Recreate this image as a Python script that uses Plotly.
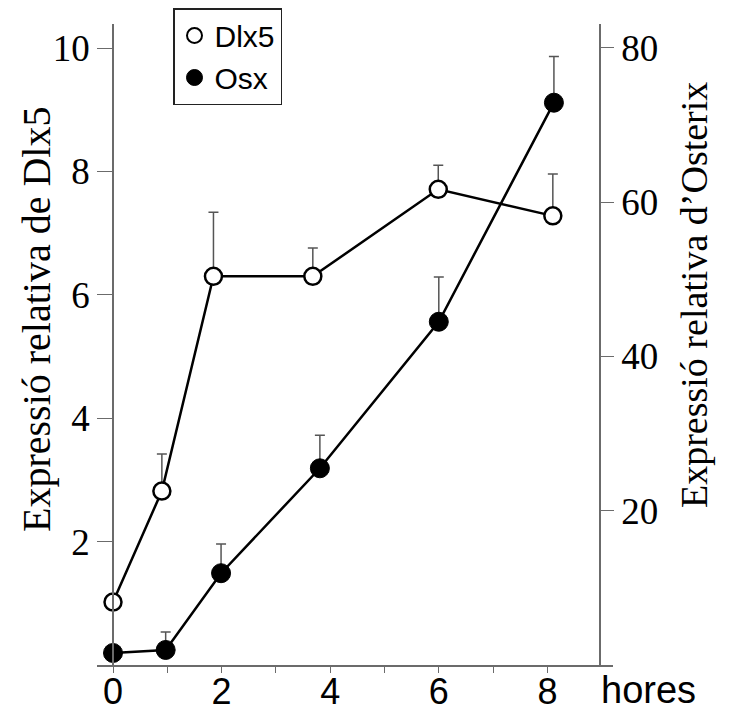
import plotly.graph_objects as go

# Data
hours_dlx5 = [0, 0.9, 1.85, 3.68, 5.99, 8.1]
dlx5 = [1.02, 2.82, 6.30, 6.30, 7.71, 7.28]
dlx5_err = [0, 0.60, 1.04, 0.46, 0.39, 0.68]

hours_osx = [0, 0.97, 1.99, 3.81, 6.0, 8.12]
osx = [1.56, 1.95, 11.9, 25.5, 44.5, 72.9]
osx_err = [0, 2.33, 3.8, 4.3, 5.8, 6.0]

x_tickvals = [0, 1, 2, 3, 4, 5, 6, 7, 8]
x_ticktext = ["0", "", "2", "", "4", "", "6", "", "8"]
left_ticks = [2, 4, 6, 8, 10]
right_ticks = [20, 40, 60, 80]

# page offset (body margin) compensation
OFF = 8
W, H = 730 - OFF, 711 - OFF
# plot area in page pixels
PL, PR, PT, PB = 97, 613, 24, 665
ML, MR, MT, MB = PL - OFF, W - (PR - OFF), PT - OFF, H - (PB - OFF)
pw = PR - PL
ph = PB - PT

def px2paper_x(px):
    return (px - PL) / pw

def px2paper_y(py):
    return (PB - py) / ph

AXIS_GRAY = "#6b6b6b"
SERIF = "Liberation Serif, Times New Roman, serif"
SANS = "Liberation Sans, Arial, sans-serif"

fig = go.Figure()

fig.add_trace(go.Scatter(
    x=hours_osx, y=osx, yaxis="y2", mode="lines+markers", showlegend=False,
    line=dict(color="black", width=2.5),
    marker=dict(symbol="circle", size=19, color="black", line=dict(color="black", width=1)),
    error_y=dict(type="data", symmetric=False, array=osx_err, arrayminus=[0]*len(osx_err),
                 color="#555555", thickness=1.5, width=5),
))
fig.add_trace(go.Scatter(
    x=hours_dlx5, y=dlx5, mode="lines+markers", showlegend=False,
    line=dict(color="black", width=2.5),
    marker=dict(symbol="circle", size=17, color="white", line=dict(color="black", width=2.5)),
    error_y=dict(type="data", symmetric=False, array=dlx5_err, arrayminus=[0]*len(dlx5_err),
                 color="#555555", thickness=1.5, width=5),
))

# legend-only traces
fig.add_trace(go.Scatter(x=[None], y=[None], mode="markers", name="Dlx5",
                         marker=dict(symbol="circle", size=15, color="white",
                                     line=dict(color="black", width=2))))
fig.add_trace(go.Scatter(x=[None], y=[None], mode="markers", name="Osx",
                         marker=dict(symbol="circle", size=17, color="black",
                                     line=dict(color="black", width=1))))

x0px = 113
xscale = 54.3
fig.update_layout(
    width=W, height=H,
    margin=dict(l=ML, r=MR, t=MT, b=MB, pad=0, autoexpand=False),
    plot_bgcolor="white", paper_bgcolor="white",
    showlegend=True,
    legend=dict(x=px2paper_x(173), y=px2paper_y(8), xanchor="left", yanchor="top",
                bordercolor="#222222", borderwidth=1.5, bgcolor="white",
                font=dict(family=SANS, size=30, color="black"),
                itemsizing="trace", tracegroupgap=0, itemwidth=30),
    xaxis=dict(range=[(PL - x0px) / xscale, (PR - x0px) / xscale], automargin=False,
               showgrid=False, zeroline=False, showline=True, linecolor=AXIS_GRAY, linewidth=1.5,
               tickvals=x_tickvals, ticktext=x_ticktext, ticks="outside", ticklen=6,
               tickwidth=1.2, tickcolor=AXIS_GRAY, ticklabelstandoff=-12,
               tickfont=dict(family=SANS, size=36, color="black")),
    yaxis=dict(range=[0, 10.39], anchor="free", position=px2paper_x(113), side="left",
               automargin=False,
               showgrid=False, zeroline=False, showline=True, linecolor=AXIS_GRAY, linewidth=1.5,
               tickvals=left_ticks, ticks="outside", ticklen=15, tickwidth=1.2, tickcolor=AXIS_GRAY,
               tickfont=dict(family=SERIF, size=37, color="black")),
    yaxis2=dict(range=[0, 83.1], anchor="free", position=px2paper_x(600), side="right",
                overlaying="y", automargin=False,
                showgrid=False, zeroline=False, showline=True, linecolor=AXIS_GRAY, linewidth=1.5,
                tickvals=right_ticks, ticks="outside", ticklen=13, tickwidth=1.2, tickcolor=AXIS_GRAY,
                tickfont=dict(family=SERIF, size=37, color="black")),
    annotations=[
        dict(text="Expressió relativa de Dlx5", xref="paper", yref="paper",
             x=px2paper_x(36), y=px2paper_y(320), textangle=-90, showarrow=False,
             xanchor="center", yanchor="middle",
             font=dict(family=SERIF, size=40, color="black")),
        dict(text="Expressió relativa d\u2019Osterix", xref="paper", yref="paper",
             x=px2paper_x(694), y=px2paper_y(295), textangle=-90, showarrow=False,
             xanchor="center", yanchor="middle",
             font=dict(family=SERIF, size=38, color="black")),
        dict(text="hores", xref="paper", yref="paper",
             x=px2paper_x(648), y=px2paper_y(690), showarrow=False,
             xanchor="center", yanchor="middle",
             font=dict(family=SANS, size=38, color="black")),
    ],
)

fig.write_html("out.html")
